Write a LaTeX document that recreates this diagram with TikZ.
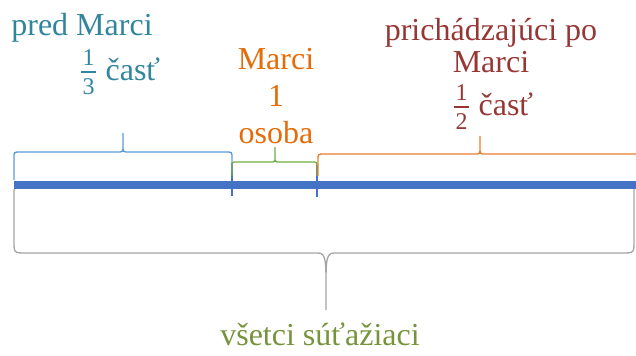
\documentclass[tikz,border=0pt]{standalone}
\usepackage{fontspec}
\setmainfont{Liberation Serif}
\usepackage{amsmath}
\definecolor{lineblue}{HTML}{4472C4}
\definecolor{braceblue}{HTML}{5B9BD5}
\definecolor{bracegreen}{HTML}{70AD47}
\definecolor{braceorange}{HTML}{ED7D31}
\definecolor{bracegray}{HTML}{A5A5A5}
\definecolor{textteal}{HTML}{31859C}
\definecolor{textorange}{HTML}{E46C0A}
\definecolor{textred}{HTML}{953735}
\definecolor{textolive}{HTML}{77933C}
\newcommand{\fracdigit}[1]{\mbox{\fontsize{18}{18}\selectfont #1}}
\newcommand{\partfrac}[2]{$\genfrac{}{}{1.5pt}{1}{\mkern1mu\fracdigit{#1}\mkern1mu\rule[-2.25pt]{0pt}{2.25pt}}{\mkern1mu\fracdigit{#2}\mkern1mu\rule{0pt}{14.75pt}}$}

\begin{document}
\begin{tikzpicture}
	[x=0.75pt, y=-0.75pt,
	label text/.style={font=\fontsize{24}{24}\selectfont, align=center, anchor=base},
	brace line/.style={line width=1pt}]
	\useasboundingbox (0,0) rectangle (636,355);
	% the line of all contestants
	\draw[lineblue, line width=6pt] (14,185) -- (640,185);
	\draw[lineblue, line width=0.8pt] (232,163) -- (232,196);
	\draw[lineblue, line width=0.8pt] (317,165) -- (317,197);
	% braces above the line
	\draw[brace line, braceblue] (14,180) -- (14,158) .. controls (14,152) .. (20,152) -- (117,152) .. controls (123,152) .. (123,146) -- (123,133) -- (123,146) .. controls (123,152) .. (129,152) -- (226,152) .. controls (232,152) .. (232,158) -- (232,172);
	\draw[brace line, bracegreen] (232,176) -- (232,167) .. controls (232,162) .. (237,162) -- (270,162) .. controls (275,162) .. (275,157) -- (275,147) -- (275,157) .. controls (275,162) .. (280,162) -- (312,162) .. controls (317,162) .. (317,167) -- (317,176);
	\draw[brace line, braceorange] (318,176) -- (318,160) .. controls (318,154) .. (324,154) -- (474,154) .. controls (480,154) .. (480,148) -- (480,136) -- (480,148) .. controls (480,154) .. (486,154) -- (640,154);
	% brace below the line
	\draw[brace line, bracegray] (14,189) -- (14,241) .. controls (14,253) .. (26,253) -- (318,253) .. controls (326,253) and (326,262) .. (326,285) -- (326,310) -- (326,285) .. controls (326,262) and (326,253) .. (334,253) -- (622,253) .. controls (634,253) .. (634,241) -- (634,189);
	% labels (multi-line nodes sit on their last baseline)
	\node[label text, textteal] (before) at (82,35) {pred Marci};
	\node[label text, textteal] (beforepart) at (120,80) {\partfrac13 časť};
	\node[label text, textorange, font=\fontsize{24}{27.75}\selectfont] (marci) at (276,143) {Marci\\1\\osoba};
	\node[label text, textred] (after) at (491,72) {prichádzajúci po\\Marci};
	\node[label text, textred] (afterpart) at (493,115) {\partfrac12 časť};
	\node[label text, textolive] (all) at (320,345) {všetci súťažiaci};
\end{tikzpicture}
\end{document}
